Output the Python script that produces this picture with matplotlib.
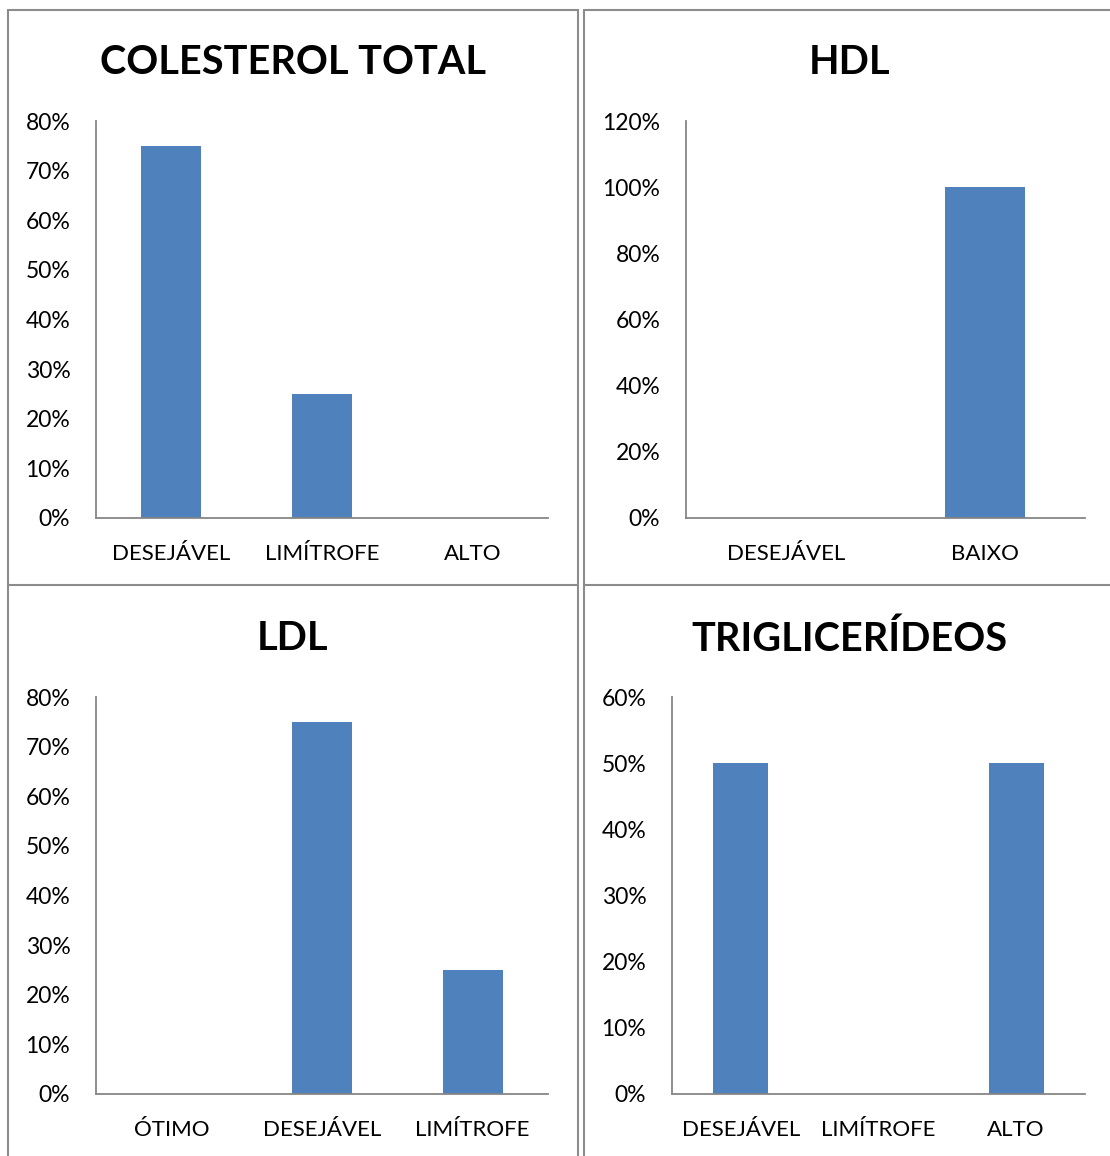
import matplotlib
matplotlib.use("Agg")
import matplotlib.pyplot as plt
from matplotlib.lines import Line2D

plt.rcParams['font.family'] = ['Lato', 'DejaVu Sans']

W, H = 1110, 1156
DPI = 100

# Lipid profile results (% of patients per category)
colesterol_cats = ['DESEJÁVEL', 'LIMÍTROFE', 'ALTO']
colesterol_vals = [75, 25, 0]
colesterol_ticks = [0, 10, 20, 30, 40, 50, 60, 70, 80]

hdl_cats = ['DESEJÁVEL', 'BAIXO']
hdl_vals = [0, 100]
hdl_ticks = [0, 20, 40, 60, 80, 100, 120]

ldl_cats = ['ÓTIMO', 'DESEJÁVEL', 'LIMÍTROFE']
ldl_vals = [0, 75, 25]
ldl_ticks = [0, 10, 20, 30, 40, 50, 60, 70, 80]

tg_cats = ['DESEJÁVEL', 'LIMÍTROFE', 'ALTO']
tg_vals = [50, 0, 50]
tg_ticks = [0, 10, 20, 30, 40, 50, 60]

BAR = '#4F81BD'
AXIS = '#868686'
FRAME = '#8C8C8C'

fig = plt.figure(figsize=(W / DPI, H / DPI), dpi=DPI)
fig.patch.set_facecolor('white')


def px_axes(left, top, right, bottom):
    return fig.add_axes([left / W, 1 - bottom / H, (right - left) / W, (bottom - top) / H])


def px_line(xs, ys, **kw):
    fig.add_artist(Line2D([x / W for x in xs], [1 - y / H for y in ys],
                          transform=fig.transFigure, **kw))


def panel(box, title, title_xy, cats, vals, ticks):
    ax = px_axes(*box)
    x = range(len(cats))
    ax.bar(x, vals, width=0.4, color=BAR, zorder=2)
    ax.set_xlim(-0.5, len(cats) - 0.5)
    ax.set_ylim(ticks[0], ticks[-1])
    ax.set_yticks(ticks)
    ax.set_yticklabels([f'{t}%' for t in ticks])
    ax.set_xticks(list(x))
    ax.set_xticklabels(cats)
    for s in ('top', 'right'):
        ax.spines[s].set_visible(False)
    for s in ('left', 'bottom'):
        ax.spines[s].set_color(AXIS)
        ax.spines[s].set_linewidth(1.3)
    ax.tick_params(axis='y', length=0, pad=18.5, labelsize=16.5, labelcolor='black')
    ax.tick_params(axis='x', length=0, pad=18.5, labelsize=16, labelcolor='black')
    ax.set_facecolor('none')
    fig.text(title_xy[0] / W, 1 - title_xy[1] / H, title, ha='center', va='center',
             fontsize=28.5, fontweight='bold', color='black')
    return ax


panel((96, 121, 548, 518), 'COLESTEROL TOTAL', (293, 63),
      colesterol_cats, colesterol_vals, colesterol_ticks)
panel((686, 121, 1085, 518), 'HDL', (849, 63),
      hdl_cats, hdl_vals, hdl_ticks)
panel((96, 697, 548, 1094), 'LDL', (293, 639),
      ldl_cats, ldl_vals, ldl_ticks)
panel((672, 697, 1085, 1094), 'TRIGLICERÍDEOS', (849, 639),
      tg_cats, tg_vals, tg_ticks)

# Panel frames
fk = dict(color=FRAME, linewidth=1.5, solid_capstyle='butt')
px_line([8, 8], [9, H], **fk)
px_line([8, 577.5], [9.5, 9.5], **fk)
px_line([577.5, 577.5], [9, H], **fk)
px_line([583.5, 583.5], [9, H], **fk)
px_line([583.5, W], [9.5, 9.5], **fk)
px_line([8, 577.5], [585, 585], **fk)
px_line([583.5, W], [585, 585], **fk)

fig.savefig('out.png', dpi=DPI, facecolor='white')
